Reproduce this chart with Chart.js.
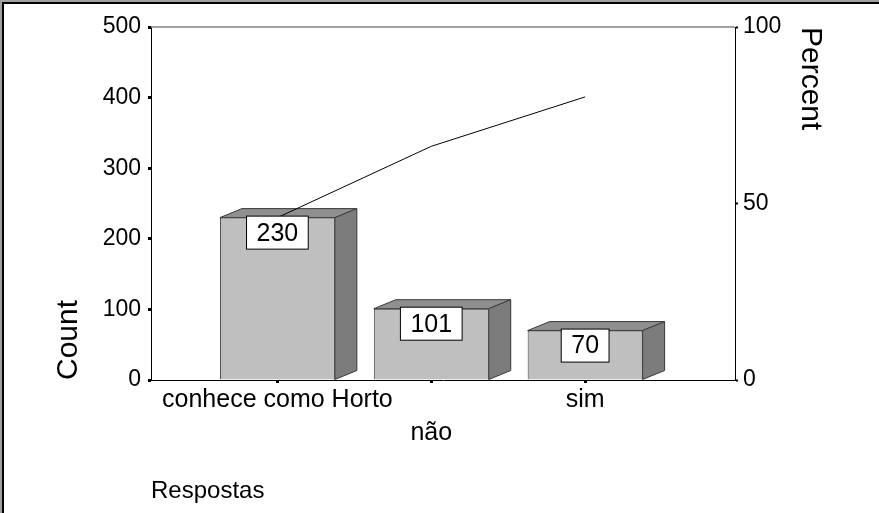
<!DOCTYPE html>
<html>
<head>
<meta charset="utf-8">
<script src="https://cdn.jsdelivr.net/npm/chart.js@4.4.1/dist/chart.umd.min.js"></script>
<style>
html, body { margin: 0; padding: 0; background: #fff; }
#wrap { position: relative; width: 879px; height: 513px; overflow: hidden; }
canvas { position: absolute; left: 0; top: 0; }
#frame { position: absolute; left: 0; top: 0; width: 900px; height: 540px;
  border-top: 2px solid #a0a0a0; border-left: 2px solid #a0a0a0; pointer-events: none; }
#frame div { position: absolute; left: 0; top: 0; right: 0; bottom: 0;
  border-top: 2px solid #000; border-left: 2px solid #000; }
</style>
</head>
<body>
<div id="wrap">
  <canvas id="chart" width="879" height="513"></canvas>
  <div id="frame"><div></div></div>
</div>
<script>
const categories = ['conhece como Horto', 'não', 'sim'];
const counts = [230, 101, 70];
const cumulative = [230, 331, 401];
const countTicks = [0, 100, 200, 300, 400, 500];
const percentTicks = [0, 50, 100];

const FONT = '"Liberation Sans", Arial, sans-serif';
const depthX = 22, depthY = 9;

// 3d top + side faces of the bars
const bar3d = {
    id: 'bar3d',
    afterDatasetDraw(chart, args) {
        if (args.index !== 0) return;
        const ctx = chart.ctx;
        ctx.save();
        ctx.lineWidth = 1;
        ctx.strokeStyle = '#3a3a3a';
        args.meta.data.forEach(bar => {
            const p = bar.getProps(['x', 'y', 'base', 'width'], true);
            const l = p.x - p.width / 2, r = p.x + p.width / 2;
            ctx.beginPath();
            ctx.moveTo(l, p.y);
            ctx.lineTo(l + depthX, p.y - depthY);
            ctx.lineTo(r + depthX, p.y - depthY);
            ctx.lineTo(r, p.y);
            ctx.closePath();
            ctx.fillStyle = '#8f8f8f';
            ctx.fill();
            ctx.stroke();
            ctx.beginPath();
            ctx.moveTo(r, p.y);
            ctx.lineTo(r + depthX, p.y - depthY);
            ctx.lineTo(r + depthX, p.base - depthY);
            ctx.lineTo(r, p.base);
            ctx.closePath();
            ctx.fillStyle = '#7c7c7c';
            ctx.fill();
            ctx.stroke();
        });
        ctx.restore();
    }
};

// value boxes, frame top line
const boxes = {
    id: 'boxes',
    afterDatasetsDraw(chart) {
        const ctx = chart.ctx;
        const area = chart.chartArea;
        ctx.save();
        ctx.strokeStyle = '#808080';
        ctx.lineWidth = 1.5;
        ctx.beginPath();
        ctx.moveTo(area.left, area.top);
        ctx.lineTo(area.right, area.top);
        ctx.stroke();

        ctx.font = '25px ' + FONT;
        ctx.textAlign = 'center';
        ctx.textBaseline = 'middle';
        chart.getDatasetMeta(0).data.forEach((bar, i) => {
            const txt = String(counts[i]);
            const w = ctx.measureText(txt).width + 20;
            const h = 33;
            const top = bar.y - 1.5;
            ctx.fillStyle = '#fff';
            ctx.fillRect(bar.x - w / 2, top, w, h);
            ctx.strokeStyle = '#000';
            ctx.lineWidth = 1;
            ctx.strokeRect(bar.x - w / 2, top, w, h);
            ctx.fillStyle = '#000';
            ctx.fillText(txt, bar.x, top + h / 2 + 1);
        });
        ctx.restore();
    }
};

new Chart(document.getElementById('chart'), {
    data: {
        datasets: [{
            type: 'bar',
            data: counts.map((v, i) => ({x: i, y: v})),
            backgroundColor: '#bfbfbf',
            borderColor: '#3a3a3a',
            borderWidth: 1,
            barPercentage: 0.747,
            categoryPercentage: 1,
            yAxisID: 'y',
            order: 2
        }, {
            type: 'line',
            data: cumulative.map((v, i) => ({x: i, y: v})),
            borderColor: '#000',
            borderWidth: 1,
            pointRadius: 0,
            tension: 0,
            yAxisID: 'y',
            order: 1
        }]
    },
    options: {
        responsive: false,
        animation: false,
        layout: { padding: { top: 27, left: 0, right: 0, bottom: 0 } },
        plugins: { legend: { display: false }, tooltip: { enabled: false } },
        scales: {
            x: {
                type: 'linear',
                offset: false,
                min: -0.8214,
                max: 2.974,
                afterBuildTicks: s => { s.ticks = categories.map((c, i) => ({value: i})); },
                afterFit: s => { s.height = 133; },
                grid: { offset: false, drawOnChartArea: false, tickLength: 3, tickWidth: 3, tickColor: '#000' },
                border: { color: '#000', width: 1 },
                ticks: {
                    color: '#000',
                    padding: 0,
                    maxRotation: 0,
                    autoSkip: false,
                    font: { family: FONT, size: 25, lineHeight: 1.33 },
                    callback: (v, i) => (i % 2 === 1 ? ['', categories[i]] : categories[i])
                },
                title: {
                    display: true,
                    text: 'Respostas',
                    align: 'start',
                    color: '#000',
                    font: { family: FONT, size: 24 },
                    padding: { top: 0, bottom: 7 }
                }
            },
            y: {
                position: 'left',
                min: 0,
                max: 500,
                afterBuildTicks: s => { s.ticks = countTicks.map(v => ({value: v})); },
                afterFit: s => { s.width = 151; },
                grid: { drawOnChartArea: false, tickLength: 3, tickWidth: 3, tickColor: '#000' },
                border: { color: '#000', width: 1 },
                ticks: { color: '#000', padding: 7, font: { family: FONT, size: 23 } },
                title: {
                    display: true,
                    text: 'Count',
                    align: 'start',
                    color: '#000',
                    font: { family: FONT, size: 30 },
                    padding: { top: 51, bottom: 0 }
                }
            },
            y2: {
                position: 'right',
                min: 0,
                max: 100,
                afterBuildTicks: s => { s.ticks = percentTicks.map(v => ({value: v})); },
                afterFit: s => { s.width = 144; },
                grid: { drawOnChartArea: false, tickLength: 3, tickWidth: 2, tickColor: '#000' },
                border: { color: '#000', width: 1 },
                ticks: { color: '#000', padding: 5, font: { family: FONT, size: 23 } },
                title: {
                    display: true,
                    text: 'Percent',
                    align: 'end',
                    color: '#000',
                    font: { family: FONT, size: 30 },
                    padding: { top: 51, bottom: 0 }
                }
            }
        }
    },
    plugins: [bar3d, boxes]
});
</script>
</body>
</html>
